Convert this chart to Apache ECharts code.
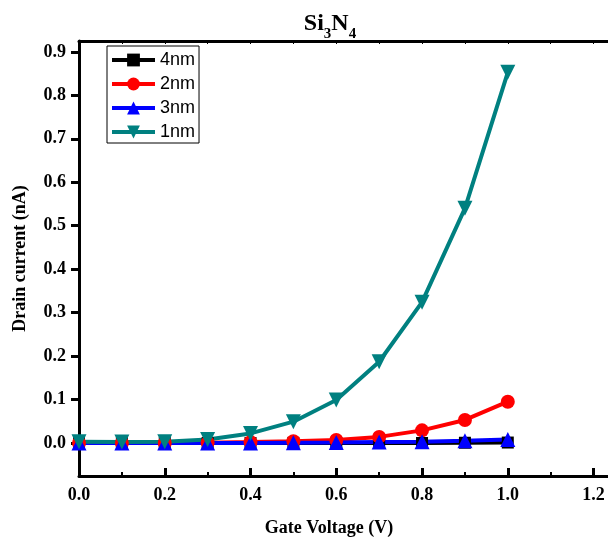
<!DOCTYPE html>
<html>
<head>
<meta charset="utf-8">
<script src="https://cdn.jsdelivr.net/npm/echarts@6/dist/echarts.min.js"></script>
<style>
  html, body { margin: 0; padding: 0; background: #fff; }
  #chart { width: 608px; height: 541px; }
</style>
</head>
<body>
<div id="chart"></div>
<script>
// 栅极电压 (V)
const gateVoltage = [0, 0.1, 0.2, 0.3, 0.4, 0.5, 0.6, 0.7, 0.8, 0.9, 1.0];
// 漏极电流 (nA)，按厚度
const current4nm = [0, 0, 0, 0, 0, 0, 0, 0, 0, 0.0005, 0.001];
const current2nm = [0, 0, 0, 0.0005, 0.002, 0.004, 0.007, 0.014, 0.029, 0.053, 0.095];
const current3nm = [0, 0, 0, 0, 0, 0.0005, 0.001, 0.002, 0.003, 0.005, 0.008];
const current1nm = [0.003, 0.002, 0.003, 0.008, 0.022, 0.049, 0.099, 0.187, 0.324, 0.540, 0.853];
const yTicks = [0, 0.1, 0.2, 0.3, 0.4, 0.5, 0.6, 0.7, 0.8, 0.9];

const serif = "Liberation Serif";
const chart = echarts.init(document.getElementById("chart"));

const pairs = arr => gateVoltage.map((v, i) => [v, arr[i]]);

const mkSeries = (name, data, color, symbol, size, rotate) => ({
  name: name,
  type: "line",
  data: pairs(data),
  symbol: symbol,
  symbolSize: size,
  symbolRotate: rotate || 0,
  lineStyle: { color: color, width: 4 },
  itemStyle: { color: color },
  emphasis: { disabled: true },
  clip: true
});

const option = {
  animation: false,
  title: {
    text: "{b|Si}{s|3}{b|N}{s|4}",
    left: 325,
    textAlign: "center",
    top: 1,
    textStyle: {
      rich: {
        b: { fontFamily: serif, fontWeight: "bold", fontSize: 24, lineHeight: 26, color: "#000" },
        s: { fontFamily: serif, fontWeight: "bold", fontSize: 15, lineHeight: 36, verticalAlign: "bottom", color: "#000" }
      }
    }
  },
  legend: {
    left: 107,
    top: 46,
    orient: "vertical",
    itemWidth: 43,
    itemHeight: 16,
    itemGap: 6,
    padding: [5, 4, 2, 3],
    borderColor: "#000",
    borderWidth: 1,
    lineStyle: { width: 4 },
    textStyle: { fontFamily: "Liberation Sans", fontSize: 18, lineHeight: 18, color: "#000" },
    data: ["4nm", "2nm", "3nm", "1nm"]
  },
  grid: { left: 79, width: 536, top: 41, bottom: 65, containLabel: false, outerBoundsMode: "none" },
  xAxis: [
    {
      type: "value",
      min: 0,
      max: 1.25,
      interval: 0.2,
      name: "Gate Voltage (V)",
      nameLocation: "middle",
      nameGap: 43,
      nameTextStyle: { fontFamily: serif, fontWeight: "bold", fontSize: 18, color: "#000", padding: [0, 36, 0, 0] },
      axisLine: { onZero: false, lineStyle: { color: "#000", width: 3 } },
      axisTick: { inside: true, length: 8, lineStyle: { color: "#000", width: 3 } },
      minorTick: { show: true, splitNumber: 2, length: 4, lineStyle: { color: "#000", width: 2 } },
      axisLabel: {
        margin: 10,
        fontFamily: serif, fontWeight: "bold", fontSize: 18, color: "#000",
        formatter: v => v.toFixed(1)
      },
      splitLine: { show: false }
    },
    {
      type: "value",
      position: "top",
      min: 0,
      max: 1.25,
      interval: 0.1,
      axisLine: { onZero: false, lineStyle: { color: "#000", width: 3 } },
      axisTick: { inside: true, length: 3, lineStyle: { color: "#000", width: 1 } },
      axisLabel: { show: false },
      splitLine: { show: false }
    }
  ],
  yAxis: {
    type: "value",
    min: -0.076,
    max: 0.925,
    name: "Drain current (nA)",
    nameLocation: "middle",
    nameRotate: 90,
    nameGap: 50,
    nameTextStyle: { fontFamily: serif, fontWeight: "bold", fontSize: 18, color: "#000" },
    axisLine: { show: true, onZero: false, lineStyle: { color: "#000", width: 3 } },
    axisTick: { show: true, length: 8, customValues: yTicks, lineStyle: { color: "#000", width: 3 } },
    axisLabel: {
      margin: 13,
      customValues: yTicks,
      fontFamily: serif, fontWeight: "bold", fontSize: 18, color: "#000",
      formatter: v => v.toFixed(1)
    },
    splitLine: { show: false }
  },
  series: [
    mkSeries("4nm", current4nm, "#000000", "rect", 12),
    mkSeries("2nm", current2nm, "#ff0000", "circle", 14),
    mkSeries("3nm", current3nm, "#0000ff", "triangle", 15),
    mkSeries("1nm", current1nm, "#008080", "triangle", 15, 180)
  ]
};

chart.setOption(option);
</script>
</body>
</html>
